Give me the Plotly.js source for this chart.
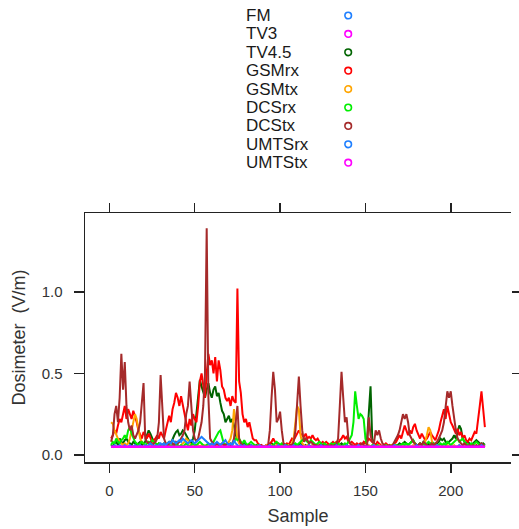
<!DOCTYPE html>
<html>
<head>
<meta charset="utf-8">
<script src="https://cdn.plot.ly/plotly-3.0.1.min.js"></script>
<style>html,body{margin:0;padding:0;background:#fff;}#chart{width:519px;height:529px;}</style>
</head>
<body>
<div id="chart"></div>
<script>
// Series names and colours (legend order)
const seriesNames = ["FM","TV3","TV4.5","GSMrx","GSMtx","DCSrx","DCStx","UMTSrx","UMTStx"];
const seriesColors = ["#1e7fff","#ff00ff","#006400","#ff0000","#ffa500","#00ee00","#a52a2a","#1e7fff","#ff00ff"];

const xTickVals = [0,50,100,150,200];
const yTickVals = [0,0.5,1.0];
const yTickText = ["0.0","0.5","1.0"];

const FM = [
0.05,0.05,0.05,0.05,0.05,0.05,0.05,0.05,0.05,0.05,
0.05,0.05,0.05,0.05,0.05,0.05,0.05,0.05,0.05,0.05,
0.05,0.05,0.05,0.05,0.05,0.05,0.05,0.05,0.05,0.05,
0.05,0.05,0.05,0.05,0.05,0.05,0.05,0.05,0.05,0.05,
0.05,0.05,0.05,0.05,0.05,0.05,0.05,0.05,0.05,0.05,
0.05,0.05,0.05,0.05,0.05,0.05,0.05,0.05,0.05,0.05,
0.05,0.05,0.05,0.05,0.05,0.05,0.05,0.05,0.05,0.05,
0.05,0.05,0.05,0.05,0.05,0.05,0.05,0.05,0.05,0.05,
0.05,0.05,0.05,0.05,0.05,0.05,0.05,0.05,0.05,0.05,
0.05,0.05,0.05,0.05,0.05,0.05,0.05,0.05,0.05,0.05,
0.05,0.05,0.05,0.05,0.05,0.05,0.05,0.05,0.05,0.05,
0.05,0.05,0.05,0.05,0.05,0.05,0.05,0.05,0.05,0.05,
0.05,0.05,0.05,0.05,0.05,0.05,0.05,0.05,0.05,0.05,
0.05,0.05,0.05,0.05,0.05,0.05,0.05,0.05,0.05,0.05,
0.05,0.05,0.05,0.05,0.05,0.05,0.05,0.05,0.05,0.05,
0.05,0.05,0.05,0.05,0.05,0.05,0.05,0.05,0.05,0.05,
0.05,0.05,0.05,0.05,0.05,0.05,0.05,0.05,0.05,0.05,
0.05,0.05,0.05,0.05,0.05,0.05,0.05,0.05,0.05,0.05,
0.05,0.05,0.05,0.05,0.05,0.05,0.05,0.05,0.05,0.05,
0.05,0.05,0.05,0.05,0.05,0.05,0.05,0.05,0.05,0.05,
0.05,0.05,0.05,0.05,0.05,0.05,0.05,0.05,0.05,0.05,
0.05,0.05,0.05,0.05,0.05,0.05,0.05,0.05,0.05,0.05];

const TV3 = FM.slice();

const TV45 = [
0.06,0.05,0.07,0.08,0.06,0.10,0.08,0.07,0.09,0.10,
0.08,0.07,0.06,0.08,0.07,0.06,0.07,0.08,0.06,0.07,
0.08,0.12,0.15,0.13,0.10,0.08,0.07,0.06,0.07,0.06,
0.06,0.07,0.06,0.07,0.08,0.07,0.10,0.12,0.14,0.15,
0.12,0.13,0.15,0.14,0.12,0.10,0.08,0.07,0.10,0.15,
0.25,0.35,0.46,0.42,0.38,0.35,0.40,0.44,0.38,0.35,
0.40,0.42,0.36,0.38,0.32,0.27,0.25,0.20,0.22,0.24,
0.20,0.22,0.18,0.12,0.10,0.08,0.07,0.06,0.07,0.06,
0.06,0.05,0.06,0.05,0.05,0.06,0.05,0.05,0.06,0.05,
0.05,0.06,0.05,0.06,0.07,0.06,0.05,0.06,0.05,0.06,
0.06,0.05,0.06,0.05,0.06,0.05,0.06,0.07,0.06,0.05,
0.06,0.07,0.06,0.05,0.06,0.05,0.06,0.05,0.06,0.05,
0.05,0.06,0.05,0.06,0.05,0.05,0.06,0.05,0.06,0.05,
0.06,0.05,0.06,0.05,0.06,0.07,0.06,0.05,0.06,0.05,
0.05,0.06,0.05,0.06,0.05,0.06,0.05,0.06,0.07,0.08,
0.10,0.30,0.42,0.10,0.07,0.06,0.05,0.06,0.05,0.05,
0.05,0.06,0.05,0.05,0.06,0.05,0.06,0.05,0.06,0.07,
0.06,0.07,0.08,0.07,0.06,0.07,0.08,0.09,0.07,0.06,
0.06,0.07,0.06,0.08,0.07,0.06,0.07,0.06,0.08,0.07,
0.06,0.07,0.08,0.10,0.09,0.10,0.08,0.07,0.08,0.09,
0.10,0.12,0.10,0.14,0.18,0.16,0.10,0.08,0.07,0.08,
0.07,0.06,0.07,0.08,0.09,0.08,0.07,0.06,0.07,0.06];

const GSMrx = [
0.10,0.12,0.15,0.13,0.18,0.22,0.20,0.25,0.30,0.22,
0.28,0.25,0.22,0.27,0.24,0.20,0.15,0.12,0.10,0.14,
0.12,0.10,0.13,0.10,0.08,0.09,0.10,0.12,0.10,0.14,
0.12,0.10,0.15,0.20,0.24,0.20,0.28,0.32,0.38,0.35,
0.30,0.36,0.30,0.25,0.20,0.15,0.22,0.18,0.25,0.22,
0.20,0.30,0.45,0.50,0.42,0.35,0.50,0.62,0.55,0.58,
0.50,0.60,0.45,0.58,0.52,0.42,0.40,0.35,0.33,0.35,
0.30,0.36,0.33,0.32,1.02,0.45,0.38,0.25,0.20,0.22,
0.17,0.20,0.15,0.10,0.09,0.09,0.07,0.06,0.06,0.05,
0.05,0.06,0.06,0.07,0.08,0.10,0.08,0.07,0.07,0.06,
0.06,0.07,0.06,0.07,0.06,0.08,0.10,0.09,0.11,0.13,
0.15,0.13,0.12,0.11,0.13,0.10,0.11,0.10,0.12,0.10,
0.09,0.10,0.08,0.07,0.08,0.07,0.08,0.07,0.06,0.07,
0.08,0.07,0.08,0.07,0.09,0.10,0.12,0.10,0.11,0.08,
0.07,0.08,0.07,0.06,0.07,0.06,0.07,0.06,0.08,0.07,
0.08,0.10,0.09,0.08,0.07,0.06,0.08,0.07,0.06,0.05,
0.06,0.07,0.06,0.05,0.05,0.06,0.07,0.08,0.10,0.12,
0.10,0.14,0.18,0.15,0.12,0.15,0.13,0.17,0.19,0.15,
0.12,0.10,0.13,0.11,0.09,0.10,0.12,0.14,0.12,0.10,
0.09,0.12,0.15,0.20,0.25,0.28,0.22,0.30,0.25,0.20,
0.18,0.15,0.13,0.16,0.12,0.14,0.10,0.12,0.09,0.08,
0.10,0.09,0.12,0.14,0.13,0.20,0.30,0.39,0.25,0.17];

const GSMtx = [
0.20,0.19,0.15,0.12,0.10,0.08,0.07,0.06,0.07,0.06,
0.07,0.10,0.15,0.20,0.25,0.22,0.15,0.10,0.08,0.07,
0.06,0.05,0.06,0.05,0.06,0.05,0.06,0.05,0.06,0.05,
0.05,0.06,0.05,0.06,0.05,0.06,0.05,0.06,0.05,0.06,
0.05,0.06,0.07,0.08,0.10,0.09,0.07,0.06,0.05,0.06,
0.05,0.06,0.05,0.06,0.05,0.06,0.05,0.06,0.05,0.06,
0.05,0.06,0.05,0.06,0.05,0.06,0.05,0.06,0.07,0.08,
0.10,0.15,0.28,0.20,0.10,0.07,0.06,0.05,0.06,0.05,
0.05,0.06,0.05,0.05,0.06,0.05,0.05,0.06,0.05,0.05,
0.05,0.06,0.05,0.05,0.06,0.05,0.05,0.06,0.05,0.05,
0.05,0.06,0.05,0.05,0.06,0.05,0.07,0.10,0.20,0.30,
0.28,0.12,0.07,0.06,0.05,0.06,0.05,0.05,0.06,0.05,
0.05,0.06,0.05,0.05,0.06,0.05,0.05,0.06,0.05,0.05,
0.05,0.06,0.05,0.05,0.06,0.05,0.05,0.06,0.05,0.05,
0.05,0.06,0.05,0.05,0.06,0.05,0.05,0.06,0.05,0.05,
0.05,0.06,0.05,0.05,0.06,0.05,0.05,0.06,0.05,0.05,
0.05,0.06,0.05,0.05,0.06,0.05,0.05,0.06,0.05,0.05,
0.05,0.06,0.05,0.05,0.06,0.05,0.05,0.06,0.05,0.05,
0.05,0.06,0.05,0.06,0.08,0.12,0.17,0.15,0.08,0.06,
0.05,0.06,0.05,0.05,0.06,0.05,0.05,0.06,0.05,0.05,
0.05,0.06,0.05,0.05,0.06,0.05,0.05,0.06,0.05,0.05,
0.05,0.06,0.05,0.05,0.06,0.05,0.05,0.06,0.05,0.05];

const DCSrx = [
0.06,0.08,0.07,0.10,0.08,0.07,0.09,0.10,0.12,0.10,
0.15,0.17,0.13,0.10,0.08,0.07,0.06,0.07,0.08,0.07,
0.06,0.07,0.08,0.07,0.09,0.08,0.07,0.06,0.07,0.06,
0.06,0.05,0.06,0.07,0.06,0.05,0.06,0.07,0.06,0.06,
0.05,0.06,0.05,0.06,0.07,0.06,0.05,0.06,0.07,0.06,
0.06,0.07,0.08,0.07,0.06,0.05,0.06,0.07,0.06,0.07,
0.08,0.10,0.12,0.14,0.15,0.10,0.07,0.06,0.07,0.06,
0.07,0.06,0.08,0.10,0.09,0.10,0.08,0.07,0.09,0.07,
0.06,0.07,0.08,0.07,0.06,0.05,0.06,0.05,0.05,0.05,
0.05,0.05,0.05,0.06,0.05,0.06,0.07,0.08,0.07,0.06,
0.07,0.06,0.05,0.06,0.05,0.06,0.05,0.06,0.07,0.06,
0.07,0.08,0.09,0.10,0.09,0.08,0.07,0.09,0.08,0.07,
0.06,0.07,0.08,0.07,0.06,0.07,0.06,0.05,0.06,0.07,
0.06,0.07,0.06,0.07,0.06,0.05,0.06,0.07,0.06,0.08,
0.10,0.12,0.20,0.39,0.30,0.22,0.25,0.24,0.22,0.10,
0.06,0.05,0.05,0.06,0.05,0.05,0.06,0.05,0.05,0.05,
0.05,0.06,0.05,0.06,0.05,0.06,0.05,0.06,0.05,0.06,
0.06,0.07,0.06,0.07,0.06,0.07,0.08,0.09,0.07,0.06,
0.06,0.07,0.06,0.07,0.06,0.07,0.08,0.07,0.06,0.07,
0.06,0.05,0.06,0.07,0.06,0.07,0.06,0.08,0.07,0.06,
0.07,0.08,0.09,0.10,0.08,0.09,0.10,0.08,0.07,0.06,
0.06,0.07,0.06,0.07,0.08,0.07,0.06,0.07,0.06,0.06];

const DCStx = [
0.08,0.12,0.25,0.30,0.20,0.35,0.62,0.40,0.57,0.30,
0.20,0.15,0.18,0.12,0.10,0.12,0.15,0.20,0.30,0.44,
0.10,0.08,0.07,0.08,0.06,0.07,0.08,0.10,0.20,0.49,
0.25,0.10,0.07,0.06,0.07,0.08,0.07,0.06,0.08,0.07,
0.08,0.10,0.12,0.15,0.25,0.30,0.45,0.30,0.15,0.10,
0.08,0.10,0.15,0.20,0.30,0.50,1.39,0.35,0.10,0.08,
0.07,0.06,0.07,0.06,0.06,0.07,0.06,0.06,0.07,0.06,
0.06,0.07,0.10,0.20,0.30,0.10,0.07,0.06,0.06,0.05,
0.05,0.06,0.05,0.05,0.05,0.05,0.05,0.06,0.05,0.05,
0.05,0.05,0.06,0.15,0.35,0.51,0.40,0.20,0.22,0.265,
0.15,0.07,0.06,0.05,0.05,0.06,0.06,0.08,0.15,0.30,
0.48,0.30,0.15,0.08,0.10,0.09,0.07,0.08,0.07,0.06,
0.06,0.05,0.06,0.05,0.06,0.05,0.05,0.06,0.05,0.06,
0.05,0.06,0.06,0.10,0.30,0.51,0.35,0.20,0.23,0.10,
0.07,0.06,0.05,0.05,0.06,0.05,0.06,0.07,0.06,0.05,
0.06,0.23,0.12,0.08,0.07,0.15,0.12,0.15,0.10,0.07,
0.06,0.05,0.05,0.06,0.05,0.06,0.08,0.10,0.12,0.15,
0.20,0.25,0.22,0.25,0.20,0.12,0.10,0.08,0.07,0.06,
0.06,0.07,0.06,0.08,0.07,0.06,0.05,0.06,0.07,0.06,
0.07,0.08,0.10,0.12,0.15,0.20,0.30,0.39,0.35,0.39,
0.30,0.22,0.15,0.10,0.08,0.07,0.06,0.07,0.06,0.05,
0.06,0.05,0.06,0.05,0.06,0.05,0.06,0.07,0.06,0.05];

const UMTSrx = [
0.05,0.05,0.06,0.05,0.05,0.06,0.05,0.05,0.06,0.05,
0.05,0.06,0.05,0.05,0.06,0.05,0.05,0.06,0.05,0.05,
0.06,0.05,0.06,0.07,0.06,0.05,0.06,0.05,0.06,0.07,
0.06,0.07,0.06,0.07,0.08,0.07,0.09,0.08,0.07,0.08,
0.09,0.08,0.10,0.09,0.08,0.07,0.08,0.09,0.08,0.07,
0.08,0.09,0.10,0.11,0.10,0.09,0.08,0.07,0.06,0.07,
0.06,0.07,0.08,0.07,0.06,0.07,0.08,0.09,0.07,0.06,
0.07,0.06,0.09,0.07,0.06,0.05,0.06,0.05,0.06,0.05,
0.05,0.05,0.06,0.05,0.05,0.05,0.05,0.06,0.05,0.05,
0.05,0.05,0.05,0.06,0.05,0.05,0.05,0.05,0.06,0.05,
0.05,0.05,0.06,0.05,0.05,0.05,0.05,0.06,0.05,0.05,
0.05,0.06,0.05,0.05,0.05,0.05,0.06,0.05,0.05,0.05,
0.05,0.05,0.05,0.06,0.05,0.05,0.05,0.05,0.05,0.05,
0.05,0.05,0.06,0.05,0.05,0.05,0.05,0.05,0.06,0.05,
0.05,0.05,0.05,0.05,0.05,0.06,0.05,0.05,0.05,0.05,
0.05,0.05,0.05,0.05,0.06,0.05,0.05,0.05,0.05,0.05,
0.05,0.05,0.05,0.05,0.05,0.05,0.06,0.05,0.05,0.05,
0.05,0.05,0.05,0.05,0.05,0.05,0.05,0.05,0.05,0.06,
0.05,0.05,0.05,0.05,0.05,0.05,0.05,0.05,0.05,0.05,
0.05,0.06,0.05,0.05,0.05,0.05,0.05,0.05,0.05,0.05,
0.05,0.05,0.05,0.05,0.06,0.05,0.05,0.05,0.05,0.05,
0.05,0.05,0.05,0.05,0.05,0.05,0.05,0.06,0.05,0.05];

const UMTStx = FM.slice();

const seriesValues = [FM, TV3, TV45, GSMrx, GSMtx, DCSrx, DCStx, UMTSrx, UMTStx];
const samples = FM.map((_, i) => i + 1);

// ---- layout geometry (pixels) ----
const W = 519, H = 529;
const L = 85, R = 511.5, T = 213, B = 462;
const pw = R - L, ph = B - T;
const px2x = p => (p - L) / pw;
const py2y = p => (B - p) / ph;

const xRange = [-14.3, 235.3];
const yRange = [-0.044, 1.484];

const traces = seriesValues.map((vals, i) => ({
  type: 'scatter', mode: 'lines',
  x: samples, y: vals,
  name: seriesNames[i],
  line: {color: seriesColors[i], width: (i === seriesValues.length - 1) ? 2.4 : 2},
  xaxis: 'x', yaxis: (i === seriesValues.length - 1) ? 'y2' : 'y',
  showlegend: false, hoverinfo: 'skip'
}));

// legend (text + open circle) drawn as annotations/shapes
const legTextX = 244, legCircX = 348.5, legY0 = 15.5, legDY = 18.4;
const annotations = [];
const shapes = [];
seriesNames.forEach((nm, i) => {
  const cy = legY0 + i * legDY;
  annotations.push({
    xref: 'paper', yref: 'paper', x: px2x(legTextX), y: py2y(cy),
    xanchor: 'left', yanchor: 'middle', showarrow: false,
    text: nm, font: {family: 'Liberation Sans, Arial, sans-serif', size: 17, color: '#1a1a1a'}
  });
  const r = 3.3;
  shapes.push({
    type: 'circle', xref: 'paper', yref: 'paper',
    x0: px2x(legCircX - r), x1: px2x(legCircX + r),
    y0: py2y(cy + r), y1: py2y(cy - r),
    line: {color: seriesColors[i], width: 1.6}, fillcolor: 'rgba(0,0,0,0)'
  });
});

const tickFont = {family: 'Liberation Sans, Arial, sans-serif', size: 15, color: '#333'};
const titleFont = {family: 'Liberation Sans, Arial, sans-serif', size: 18, color: '#333'};

const layout = {
  width: W, height: H,
  margin: {l: L, r: W - R, t: T, b: H - B, pad: 0},
  paper_bgcolor: '#fff', plot_bgcolor: '#fff',
  showlegend: false,
  xaxis: {
    range: xRange, tickvals: xTickVals, ticktext: xTickVals.map(String),
    ticks: 'outside', ticklen: 9, tickwidth: 1.5, tickcolor: '#222',
    showline: true, linecolor: '#222', linewidth: 1.5, mirror: 'ticks',
    showgrid: false, zeroline: false, tickfont: tickFont, ticklabelstandoff: 5,
    title: {text: 'Sample', font: titleFont, standoff: 12}, automargin: false
  },
  yaxis: {
    range: yRange, tickvals: yTickVals, ticktext: yTickText,
    ticks: 'outside', ticklen: 10, tickwidth: 1.5, tickcolor: '#222',
    showline: true, linecolor: '#222', linewidth: 1.5, mirror: false,
    showgrid: false, zeroline: false, tickfont: tickFont, ticklabelstandoff: 8,
    title: {text: 'Dosimeter\u00a0\u00a0(V/m)', font: titleFont, standoff: 11}, automargin: false
  },
  yaxis2: {
    overlaying: 'y', side: 'right', matches: 'y', range: yRange,
    tickvals: yTickVals, ticks: 'outside', ticklen: 10, tickwidth: 1.5, tickcolor: '#222',
    showticklabels: false, showline: false, showgrid: false, zeroline: false
  },
  annotations: annotations,
  shapes: shapes
};

Plotly.newPlot('chart', traces, layout, {displayModeBar: false, staticPlot: true});
</script>
</body>
</html>
